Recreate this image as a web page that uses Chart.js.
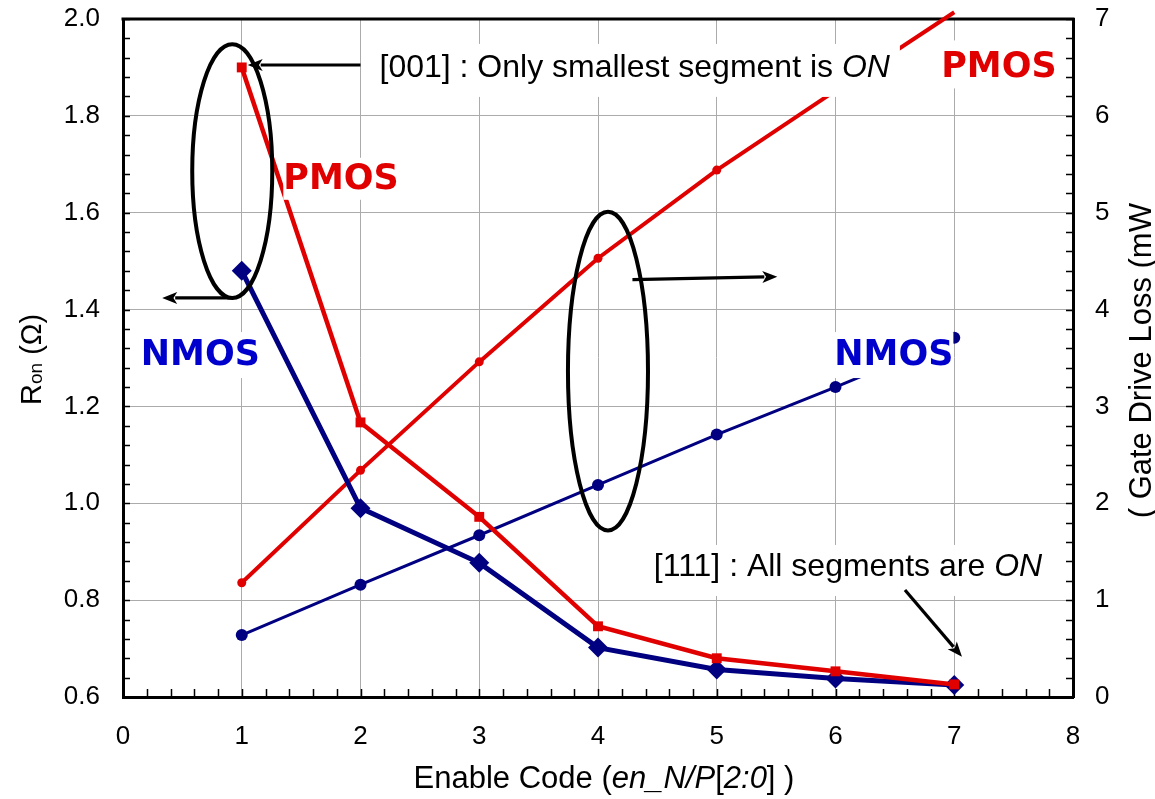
<!DOCTYPE html>
<html>
<head>
<meta charset="utf-8">
<script src="https://cdn.jsdelivr.net/npm/chart.js@4.4.1/dist/chart.umd.min.js"></script>
<style>
  html, body { margin: 0; padding: 0; background: #fff; }
</style>
</head>
<body>
<canvas id="graficoRon" width="1155" height="799"></canvas>
<script>
    // DADOS

    const codigos = [1, 2, 3, 4, 5, 6, 7];
    const ronNmos = [1.48, 0.99, 0.877, 0.702, 0.657, 0.638, 0.625];
    const ronPmos = [1.90, 1.167, 0.972, 0.746, 0.680, 0.653, 0.626];
    const perdaNmos = [0.64, 1.16, 1.67, 2.19, 2.71, 3.20, 3.71];
    const perdaPmos = [1.18, 2.34, 3.46, 4.53, 5.44, 6.26, 7.07];

    const ticksX = [0, 1, 2, 3, 4, 5, 6, 7, 8];
    const ticksRon = [0.6, 0.8, 1.0, 1.2, 1.4, 1.6, 1.8, 2.0];
    const ticksPerda = [0, 1, 2, 3, 4, 5, 6, 7];

    const vermelho = '#e00000';
    const marinho = '#000080';
    const azul = '#0000cc';
    const cinza = '#ababab';

    Chart.defaults.font.family = '"Liberation Sans", Arial, sans-serif';
    Chart.defaults.color = '#000';

    function pontos(ys) {
        return codigos.map((c, i) => ({ x: c, y: ys[i] }));
    }

    function fixaTicks(lista) {
        return function (scale) {
            scale.ticks = lista.map(v => ({ value: v }));
        };
    }

    // seta com ponta cheia
    function seta(ctx, x1, y1, x2, y2) {
        const a = Math.atan2(y2 - y1, x2 - x1);
        const L = 15, W = 6;
        ctx.beginPath();
        ctx.moveTo(x1, y1);
        ctx.lineTo(x2 - (L - 2) * Math.cos(a), y2 - (L - 2) * Math.sin(a));
        ctx.stroke();
        ctx.beginPath();
        ctx.moveTo(x2, y2);
        ctx.lineTo(x2 - L * Math.cos(a) + W * Math.sin(a), y2 - L * Math.sin(a) - W * Math.cos(a));
        ctx.lineTo(x2 - L * 0.75 * Math.cos(a), y2 - L * 0.75 * Math.sin(a));
        ctx.lineTo(x2 - L * Math.cos(a) - W * Math.sin(a), y2 - L * Math.sin(a) + W * Math.cos(a));
        ctx.closePath();
        ctx.fill();
    }

    // texto com partes em itálico: [[texto, italico], ...]
    function textoMisto(ctx, partes, x, y, tam, cor) {
        ctx.fillStyle = cor || '#000';
        ctx.textBaseline = 'middle';
        ctx.textAlign = 'left';
        let px = x;
        partes.forEach(p => {
            ctx.font = (p[1] ? 'italic ' : '') + tam + 'px "Liberation Sans", Arial, sans-serif';
            ctx.fillText(p[0], px, y);
            px += ctx.measureText(p[0]).width;
        });
        return px - x;
    }

    function larguraMista(ctx, partes, tam) {
        let w = 0;
        partes.forEach(p => {
            ctx.font = (p[1] ? 'italic ' : '') + tam + 'px "Liberation Sans", Arial, sans-serif';
            w += ctx.measureText(p[0]).width;
        });
        return w;
    }

    // anotações (posições em unidades do eixo x e do eixo Ron)
    const textos = [
        { partes: [['[001] : Only smallest segment is ', false], ['ON', true]], x: 2.16, y: 1.899, tam: 32, cor: '#000', caixa: [14, 10, 24, 29] },
        { partes: [['[111] : All segments are ', false], ['ON', true]], x: 4.47, y: 0.8685, tam: 32, cor: '#000', caixa: [12, 10, 22, 29] },
    ];
    const rotulos = [
        { t: 'PMOS', x: 1.35, y: 1.668, cor: vermelho, caixa: [0, 3, 22, 20] },
        { t: 'PMOS', x: 6.89, y: 1.898, cor: vermelho, caixa: [8, 8, 28, 20] },
        { t: 'NMOS', x: 0.15, y: 1.304, cor: azul, caixa: [8, 4, 24, 22] },
        { t: 'NMOS', x: 5.99, y: 1.304, cor: azul, caixa: [8, 0, 24, 22] },
    ];
    const elipses = [
        { x: 0.92, y: 1.686, rx: 0.337, ry: 0.262 },
        { x: 4.084, y: 1.273, rx: 0.337, ry: 0.329 },
    ];
    const setas = [
        [0.93, 1.424, 0.33, 1.424],
        [4.29, 1.462, 5.51, 1.468],
        [2.0, 1.905, 1.05, 1.905],
        [6.585, 0.821, 7.065, 0.683],
    ];

    const fonteRotulo = 'bold 35px "DejaVu Sans", sans-serif';

    const pluginDesenho = {
        id: 'desenho',
        beforeDatasetsDraw(chart) {
            const ctx = chart.ctx;
            const a = chart.chartArea;
            const sx = chart.scales.x, sy = chart.scales.y, sy1 = chart.scales.y1;
            ctx.save();
            ctx.strokeStyle = '#000';
            ctx.lineWidth = 1.5;
            ctx.beginPath();
            for (let i = 0; i <= 40; i++) {
                const px = Math.round(sx.getPixelForValue(i * 0.2)) + 0.5;
                ctx.moveTo(px, a.bottom);
                ctx.lineTo(px, a.bottom - 8);
            }
            for (let i = 0; i <= 35; i++) {
                const py = Math.round(sy.getPixelForValue(0.6 + i * 0.04)) + 0.5;
                ctx.moveTo(a.left, py);
                ctx.lineTo(a.left + 7, py);
            }
            for (let i = 0; i <= 35; i++) {
                const py = Math.round(sy1.getPixelForValue(i * 0.2)) + 0.5;
                ctx.moveTo(a.right, py);
                ctx.lineTo(a.right - 7, py);
            }
            ctx.stroke();
            // borda superior
            ctx.lineWidth = 3;
            ctx.beginPath();
            ctx.moveTo(a.left - 1.5, a.top);
            ctx.lineTo(a.right + 1.5, a.top);
            ctx.stroke();
            ctx.restore();
        },
        afterDatasetsDraw(chart) {
            const ctx = chart.ctx;
            const sx = chart.scales.x, sy = chart.scales.y;
            const X = v => sx.getPixelForValue(v);
            const Y = v => sy.getPixelForValue(v);
            ctx.save();

            // caixas brancas atrás dos textos
            ctx.fillStyle = '#fff';
            textos.forEach(t => {
                const w = larguraMista(ctx, t.partes, t.tam);
                const x = X(t.x), y = Y(t.y), c = t.caixa;
                ctx.fillRect(x - c[0], y - c[2], w + c[0] + c[1], c[2] + c[3]);
            });
            ctx.font = fonteRotulo;
            rotulos.forEach(r => {
                const w = ctx.measureText(r.t).width;
                const x = X(r.x), y = Y(r.y), c = r.caixa;
                ctx.fillRect(x - c[0], y - c[2], w + c[0] + c[1], c[2] + c[3]);
            });

            // textos
            textos.forEach(t => textoMisto(ctx, t.partes, X(t.x), Y(t.y), t.tam, t.cor));
            ctx.font = fonteRotulo;
            ctx.textBaseline = 'middle';
            ctx.textAlign = 'left';
            rotulos.forEach(r => {
                ctx.fillStyle = r.cor;
                ctx.fillText(r.t, X(r.x), Y(r.y));
            });

            // elipses e setas
            ctx.strokeStyle = '#000';
            ctx.fillStyle = '#000';
            ctx.lineWidth = 4;
            elipses.forEach(e => {
                const cx = X(e.x), cy = Y(e.y);
                const rx = X(e.x + e.rx) - cx, ry = cy - Y(e.y + e.ry);
                ctx.beginPath();
                ctx.ellipse(cx, cy, rx, ry, 0, 0, Math.PI * 2);
                ctx.stroke();
            });
            ctx.lineWidth = 3.2;
            setas.forEach(s => seta(ctx, X(s[0]), Y(s[1]), X(s[2]), Y(s[3])));

            // títulos dos eixos
            const a = chart.chartArea;
            ctx.fillStyle = '#000';
            ctx.textBaseline = 'alphabetic';
            ctx.textAlign = 'left';

            ctx.save();
            ctx.translate(41, Y(1.203));
            ctx.rotate(-Math.PI / 2);
            ctx.font = '29px "Liberation Sans", Arial, sans-serif';
            ctx.fillText('R', 0, 0);
            let p = ctx.measureText('R').width;
            ctx.font = '19px "Liberation Sans", Arial, sans-serif';
            ctx.fillText('on', p, 1);
            p += ctx.measureText('on').width;
            ctx.font = '29px "Liberation Sans", Arial, sans-serif';
            ctx.fillText(' (Ω)', p, 0);
            ctx.restore();

            ctx.save();
            ctx.translate(1151, Y(0.969));
            ctx.rotate(-Math.PI / 2);
            ctx.font = '31px "Liberation Sans", Arial, sans-serif';
            ctx.fillText('( Gate Drive Loss (mW', 0, 0);
            ctx.restore();

            const partesX = [['Enable Code (', false], ['en_N/P', true], ['[', false], ['2:0', true], ['] )', false]];
            const wx = larguraMista(ctx, partesX, 31);
            textoMisto(ctx, partesX, (a.left + a.right) / 2 + 6 - wx / 2, 779, 31, '#000');

            ctx.restore();
        }
    };

    function semFolgaVertical(largura) {
        return function (s) {
            s.width = largura;
            s.paddingTop = 0;
            s.paddingBottom = 0;
        };
    }

    var graficoCtx = document.getElementById('graficoRon').getContext('2d');

    var grafico = new Chart(graficoCtx, {
        type: 'line',
        data: {
            datasets: [
                {
                    label: 'Ron PMOS',
                    data: pontos(ronPmos),
                    yAxisID: 'y',
                    borderColor: vermelho,
                    backgroundColor: vermelho,
                    borderWidth: 4.5,
                    pointStyle: 'rect',
                    pointRadius: 7,
                    pointBorderWidth: 0,
                    order: 1
                },
                {
                    label: 'Ron NMOS',
                    data: pontos(ronNmos),
                    yAxisID: 'y',
                    borderColor: marinho,
                    backgroundColor: marinho,
                    borderWidth: 5,
                    pointStyle: 'rectRot',
                    pointRadius: 10,
                    pointBorderWidth: 0,
                    order: 2
                },
                {
                    label: 'Perda PMOS',
                    data: pontos(perdaPmos),
                    yAxisID: 'y1',
                    borderColor: vermelho,
                    backgroundColor: vermelho,
                    borderWidth: 4,
                    pointStyle: 'circle',
                    pointRadius: c => (c.raw && c.raw.y > 7 ? 0 : 4.5),
                    pointBorderWidth: 0,
                    clip: false,
                    order: 3
                },
                {
                    label: 'Perda NMOS',
                    data: pontos(perdaNmos),
                    yAxisID: 'y1',
                    borderColor: marinho,
                    backgroundColor: marinho,
                    borderWidth: 3,
                    pointStyle: 'circle',
                    pointRadius: 6,
                    pointBorderWidth: 0,
                    order: 4
                }
            ]
        },
        options: {
            responsive: false,
            animation: false, // sem animação
            layout: { padding: { top: 19, left: 0, right: 0, bottom: 0 } },
            plugins: {
                legend: { display: false },
                tooltip: { enabled: false }
            },
            scales: {
                x: {
                    type: 'linear',
                    min: 0,
                    max: 8,
                    afterBuildTicks: fixaTicks(ticksX),
                    afterFit: s => { s.height = 102; s.paddingLeft = 0; s.paddingRight = 0; },
                    ticks: { font: { size: 26 }, padding: 24, maxRotation: 0 },
                    grid: { color: cinza, lineWidth: 1, drawTicks: false },
                    border: { color: '#000', width: 3 }
                },
                y: {
                    position: 'left',
                    min: 0.6,
                    max: 2.0,
                    afterBuildTicks: fixaTicks(ticksRon),
                    afterFit: semFolgaVertical(123),
                    ticks: { font: { size: 26 }, padding: 23, callback: v => v.toFixed(1) },
                    grid: { color: cinza, lineWidth: 1, drawTicks: false },
                    border: { color: '#000', width: 3 }
                },
                y1: {
                    position: 'right',
                    min: 0,
                    max: 7,
                    afterBuildTicks: fixaTicks(ticksPerda),
                    afterFit: semFolgaVertical(82),
                    ticks: { font: { size: 26 }, padding: 22 },
                    grid: { display: false, drawTicks: false },
                    border: { color: '#000', width: 3 }
                }
            }
        },
        plugins: [pluginDesenho]
    });
</script>
</body>
</html>
